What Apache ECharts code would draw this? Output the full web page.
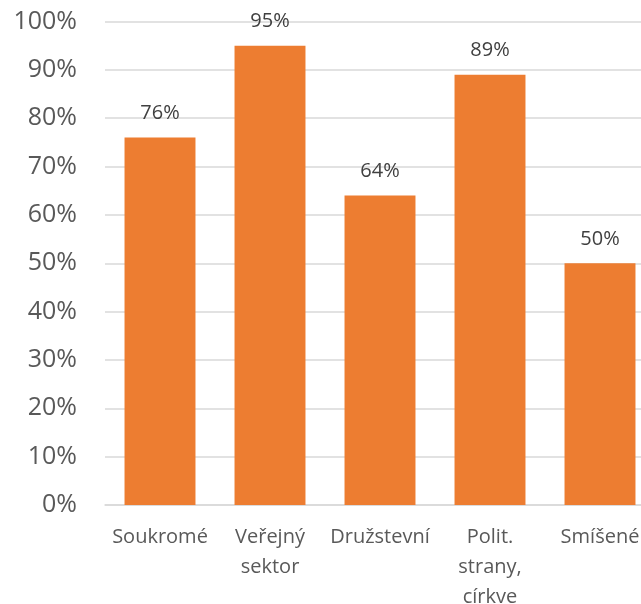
<!DOCTYPE html>
<html>
<head>
<meta charset="utf-8">
<script src="https://cdn.jsdelivr.net/npm/echarts@6/dist/echarts.min.js"></script>
<style>
  html, body { margin: 0; padding: 0; background: #fff; }
  #chart { width: 641px; height: 604px; }
</style>
</head>
<body>
<div id="chart"></div>
<script>
// Share by sector of ownership
const categories = ['Soukromé', 'Veřejný\nsektor', 'Družstevní', 'Polit.\nstrany,\ncírkve', 'Smíšené'];
const values = [76, 95, 64, 89, 50];
const yTicks = { min: 0, max: 100, interval: 10 };

const chart = echarts.init(document.getElementById('chart'), null, { renderer: 'canvas' });
const font = '"Open Sans", "Noto Sans", sans-serif';

chart.setOption({
  animation: false,
  grid: { left: 105, right: -14, top: 21.5, bottom: 99, containLabel: false, outerBoundsMode: 'none' },
  xAxis: {
    type: 'category',
    data: categories,
    axisLine: { show: true, lineStyle: { color: '#D9D9D9', width: 1.5 } },
    axisTick: { show: false },
    axisLabel: {
      color: '#595959',
      fontFamily: font,
      fontSize: 20,
      lineHeight: 30,
      margin: 17,
      interval: 0,
      hideOverlap: false
    }
  },
  yAxis: {
    type: 'value',
    min: yTicks.min,
    max: yTicks.max,
    interval: yTicks.interval,
    axisLine: { show: false },
    axisTick: { show: false },
    splitLine: { show: true, lineStyle: { color: '#D9D9D9', width: 1.5 } },
    axisLabel: {
      color: '#595959',
      fontFamily: font,
      fontSize: 25,
      margin: 28,
      formatter: v => v + '%'
    }
  },
  series: [{
    type: 'bar',
    data: values,
    barWidth: '64.5%',
    itemStyle: { color: '#ED7D31' },
    label: {
      show: true,
      position: 'top',
      distance: 14,
      color: '#404040',
      fontFamily: font,
      fontSize: 20,
      formatter: p => p.value + '%'
    }
  }]
});
</script>
</body>
</html>
